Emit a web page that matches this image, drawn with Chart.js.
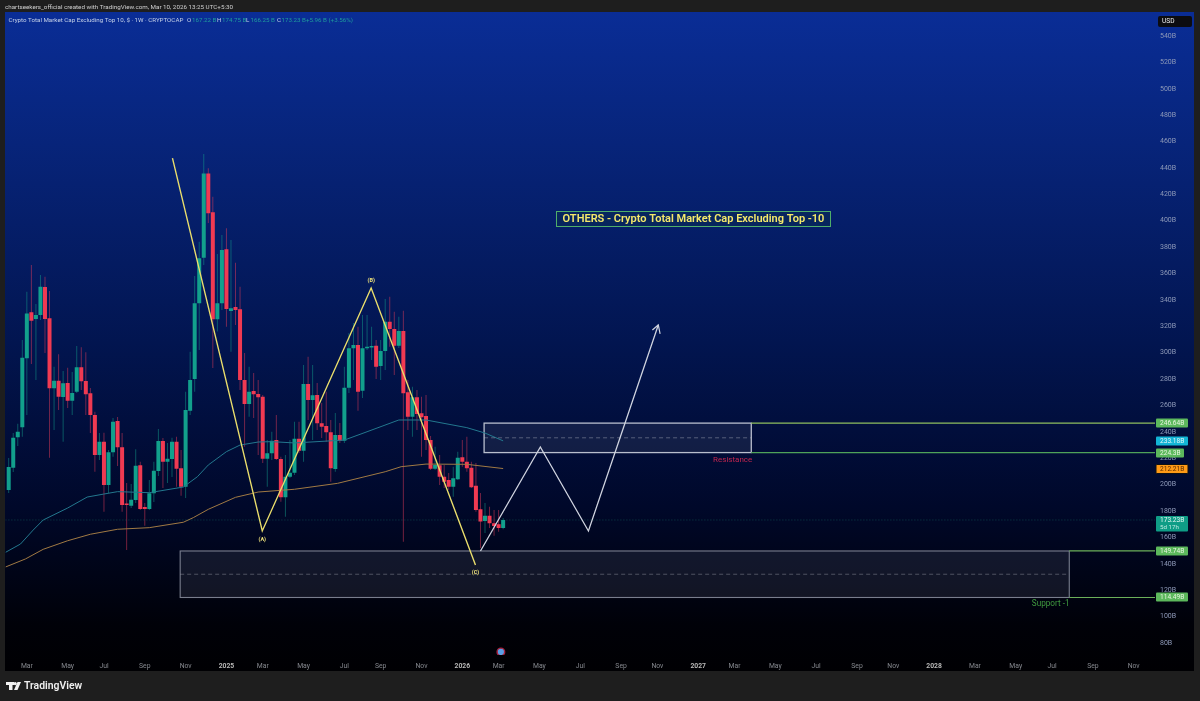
<!DOCTYPE html>
<html><head><meta charset="utf-8">
<style>html,body{margin:0;padding:0;background:#1e1e1e;overflow:hidden}canvas{display:block;filter:blur(.35px)}</style>
<script src="https://cdn.jsdelivr.net/npm/chart.js@4/dist/chart.umd.js"></script>
</head><body><canvas id="c" width="1200" height="701"></canvas>
<script>
// weekly candles: index 0 = first visible week, index 109 = week of 9 Mar 2026 (values in billions)
const opens=[196.0,212.9,235.9,243.5,295.8,330.6,325.5,328.6,349.8,326.1,
273.0,278.8,266.4,277.0,263.6,270.4,288.9,278.5,269.2,252.8,
222.5,232.6,199.7,224.5,248.2,228.3,185.7,184.0,188.4,214.7,
183.1,181.6,193.5,210.3,233.1,217.4,219.4,232.6,212.4,198.5,
256.0,280.1,337.4,372.0,435.9,406.4,325.3,337.4,378.4,331.6,
334.6,332.9,279.3,261.1,271.0,268.7,266.6,219.7,223.8,233.8,
219.4,190.4,206.0,209.0,234.8,225.7,276.3,264.1,267.9,246.5,
244.4,239.7,211.9,237.6,233.3,273.5,303.3,305.8,271.2,303.3,
303.9,305.3,289.9,301.3,323.5,318.0,305.3,316.4,270.0,251.5,
266.2,254.1,252.0,233.8,212.1,214.7,206.0,203.5,198.5,204.0,
220.7,217.4,212.9,199.2,181.3,172.4,176.5,170.7,170.0,167.22];
const closes=[213.4,235.6,240.1,296.2,329.8,324.2,328.6,350.0,325.5,273.0,
278.8,266.6,276.8,263.6,269.5,288.9,278.3,268.5,252.8,222.5,
232.6,199.7,224.5,247.7,228.3,184.6,184.6,188.6,214.4,181.6,
181.6,193.5,210.6,233.1,217.4,219.7,232.6,212.1,198.5,256.6,
279.3,337.4,371.5,435.9,405.6,325.3,337.4,377.8,333.1,333.6,
332.3,279.3,261.1,270.4,268.5,266.2,219.7,223.8,233.3,219.4,
190.4,206.0,209.0,234.8,225.7,276.3,264.1,267.7,246.5,243.9,
239.7,212.4,237.6,233.3,273.5,303.3,305.8,270.4,303.3,304.5,
305.1,289.4,301.3,323.5,318.0,305.3,316.4,269.2,251.5,266.2,
253.5,251.0,233.8,212.1,214.9,206.0,202.2,198.5,204.8,220.4,
217.4,212.4,198.0,180.8,172.0,176.5,170.7,168.7,167.2,173.23];
const highs=[220.2,239.1,246.2,309.6,346.2,366.5,336.9,358.9,357.6,346.7,
289.4,298.8,286.1,288.6,285.4,305.1,304.1,300.3,273.2,255.3,
239.1,239.4,226.3,250.5,251.3,239.1,201.2,200.5,226.8,217.4,
186.1,203.5,217.4,242.2,235.4,231.6,235.6,236.3,226.3,270.4,
300.8,358.1,384.1,450.6,439.7,418.2,374.8,389.2,394.3,385.4,
368.2,350.0,299.8,289.4,284.6,279.3,268.0,233.8,240.1,252.8,
221.2,222.5,233.8,247.7,247.7,290.7,297.0,290.7,277.0,261.9,
270.4,249.0,254.3,246.7,289.4,314.9,322.5,319.7,328.6,328.6,
319.7,309.6,309.6,340.7,342.4,331.1,327.3,331.8,279.3,274.2,
271.7,266.6,268.0,236.9,228.8,222.5,214.9,208.8,213.6,225.0,
233.8,236.3,217.4,216.4,193.7,186.1,183.3,180.8,180.8,174.75];
const lows=[193.7,209.6,229.3,236.3,252.8,291.4,279.3,324.8,299.8,220.4,
241.4,256.6,232.6,258.1,252.8,269.5,271.7,252.8,239.1,209.8,
218.7,179.5,193.7,221.2,214.1,179.5,150.5,182.3,186.1,180.8,
168.9,180.8,186.8,206.6,197.5,201.3,205.8,198.5,191.6,189.9,
252.8,270.4,302.0,366.5,398.3,288.4,316.0,332.4,319.7,300.7,
321.0,271.7,228.8,251.5,250.5,222.5,216.4,198.5,218.7,218.7,
187.1,175.7,205.0,207.3,224.0,217.4,249.0,233.8,241.4,235.4,
232.6,202.2,209.8,231.6,231.6,269.5,279.3,256.0,265.7,302.0,
294.5,280.1,279.3,286.9,304.5,283.1,303.6,156.8,241.4,236.3,
241.4,221.2,226.3,211.1,211.1,199.7,197.5,196.0,190.9,203.5,
213.6,209.8,197.5,179.5,152.0,163.4,167.2,161.3,164.3,166.25];
const tealWeeks=[-0.7,2.6,5.4,7.6,13,17.3,21,24,31,38.5,41.6,44,48,51,55,58,63,74,79,86,92,101,105,109];
const tealValues=[148.7,155,165.6,173.2,182.3,190.6,192.9,194.7,193.9,198.2,206,214.9,225,230,232.3,232.6,231.6,233.8,240.1,249,249,243.2,239.1,233.18];
const orangeWeeks=[-0.7,3.7,7.6,13,18,24,31,38.5,40.7,44,50,55,63,72.5,83,86.5,92,101,109];
const orangeValues=[137.6,143.7,151,157.5,162.4,166.2,167.4,171.5,175,181.3,190.4,194.4,196.5,201,209.8,213.6,215.6,215.4,212.21];
const abcWeeks=[36.1,55.9,79.9,102.9];
const abcValues=[447.5,164.9,349,139.1];
const pathWeeks=[104,117.2,127.8,143.2];
const pathValues=[149.7,228.5,164.9,321];
const arrowWeeks=[141.9,143.2,143.6];
const arrowValues=[317.2,321,314.2];
const xTickWeeks=[4,13,21,30,39,48,56,65,74,82,91,100,108,117,126,135,143,152,160,169,178,187,195,204,213,222,230,239,248];
const xTickLabels=['Mar','May','Jul','Sep','Nov','2025','Mar','May','Jul','Sep','Nov','2026','Mar','May','Jul','Sep','Nov','2027','Mar','May','Jul','Sep','Nov','2028','Mar','May','Jul','Sep','Nov'];
const yTickValues=[80,100,120,140,160,180,200,220,240,260,280,300,320,340,360,380,400,420,440,460,480,500,520,540];
const resistanceWeeks=[104.8,163.7], resistanceValues=[246.64,224.3], resistanceMid=235.5;
const supportWeeks=[37.8,233.8], supportValues=[149.74,114.49], supportMid=132.1;
const lastPrice=173.23;
const XMIN=-0.727, XMAX=252.7, YMIN=70.9, YMAX=558.2;
const FONT='Roboto, "Liberation Sans", sans-serif';
const UP='#12a08c', DOWN='#f03a52', UPW='rgba(20,160,140,.5)', DOWNW='rgba(230,60,90,.5)';
const idx=opens.map((_,i)=>i);
const isUp=i=>closes[i]>=opens[i];
const line=(wk,val,color,width,dash,extra)=>Object.assign({type:'line',data:wk.map((x,i)=>({x,y:val[i]})),borderColor:color,borderWidth:width,borderDash:dash||[],pointRadius:0,tension:0,fill:false,order:1},extra||{});
const horiz=(x0,x1,v,color,width,dash)=>line([x0,x1],[v,v],color,width,dash);

const chrome={id:'chrome',
 beforeDraw(ch){const c=ch.ctx;c.save();c.fillStyle='#1e1e1e';c.fillRect(0,0,1200,701);
  const g=c.createLinearGradient(0,12,0,671);
  g.addColorStop(0,'#0a2d96');g.addColorStop(.2,'#07247a');g.addColorStop(.5,'#021550');g.addColorStop(.75,'#00082a');g.addColorStop(.93,'#000108');g.addColorStop(1,'#000003');
  c.fillStyle=g;c.fillRect(5,12,1189,659);c.restore();},
 beforeDatasetsDraw(ch){const c=ch.ctx,x=ch.scales.x,y=ch.scales.y;c.save();
  const box=(w,v,fill,stroke,lw)=>{const a=x.getPixelForValue(w[0]),b=x.getPixelForValue(w[1]),t=y.getPixelForValue(v[0]),u=y.getPixelForValue(v[1]);c.fillStyle=fill;c.fillRect(a,t,b-a,u-t);c.strokeStyle=stroke;c.lineWidth=lw;c.strokeRect(a,t,b-a,u-t);};
  box(resistanceWeeks,resistanceValues,'rgba(120,128,150,.15)','rgba(215,220,230,.85)',1.3);
  box(supportWeeks,supportValues,'rgba(90,95,115,.2)','rgba(150,155,170,.8)',1.1);
  c.restore();},
 afterDraw(ch){const c=ch.ctx,x=ch.scales.x,y=ch.scales.y;c.save();c.textBaseline='middle';
  const T=(s,px,py,col,font,al)=>{c.fillStyle=col;c.font=font;c.textAlign=al||'left';c.fillText(s,px,py);};
  const f=(n,b)=>(b?'bold ':'')+n+'px '+FONT;
  T('chartseekers_official created with TradingView.com, Mar 10, 2026 13:25 UTC+5:30',5,7.5,'#cfcfcf',f(6.25));
  T('Crypto Total Market Cap Excluding Top 10, $ · 1W · CRYPTOCAP',8.5,20.5,'#c4d0e8',f(6.2));
  const TV='#1f9c9c';
  [['O',187,'167.22 B',192],['H',217,'174.75 B',222],['L',246,'166.25 B',250.5],['C',277,'173.23 B',281.5]].forEach(r=>{T(r[0],r[1],20.5,'#c4d0e8',f(6.2));T(r[2],r[3],20.5,TV,f(6.2));});
  T('+5.96 B (+3.56%)',306,20.5,TV,f(6.2));
  // USD
  c.fillStyle='#0c0c10';c.beginPath();c.roundRect(1158,16,34,11,2);c.fill();
  T('USD',1162,21.5,'#eee',f(6.6));
  // data-anchored labels
  T('(A)',x.getPixelForValue(55.9),y.getPixelForValue(158.4),'#efe27a',f(5.5,1),'center');
  T('(B)',x.getPixelForValue(79.9),y.getPixelForValue(354.3),'#efe27a',f(5.5,1),'center');
  T('(C)',x.getPixelForValue(102.9),y.getPixelForValue(133),'#efe27a',f(5.5,1),'center');
  T('Resistance',x.getPixelForValue(159.6),y.getPixelForValue(218.8),'#c2264f',f(8),'center');
  T('Support -1',x.getPixelForValue(229.7),y.getPixelForValue(109.6),'#3f9a3f',f(8.2),'center');
  // headline box
  c.fillStyle='rgba(8,40,90,.75)';c.fillRect(556.5,211.5,274,15);c.strokeStyle='#4fae6a';c.lineWidth=1;c.strokeRect(556.5,211.5,274,15);
  T('OTHERS - Crypto Total Market Cap Excluding Top -10',693.5,219.3,'#f6e96a','600 11px '+FONT,'center');
  // price tags
  const tag=(v,s,col,tc,w,border)=>{const py=Math.round(y.getPixelForValue(v));c.fillStyle=col;c.beginPath();c.roundRect(1156,py-4.5,w,9,1);c.fill();if(border){c.strokeStyle=border;c.lineWidth=1;c.stroke();}T(s,1160,py+.3,tc,f(6.6));};
  tag(246.64,'246.64B','#5cb85c','#e8f5e0',32);
  tag(233.18,'233.18B','#12b5d6','#e4f6fa',32);
  tag(224.3,'224.3B','#5cb85c','#e8f5e0',28);
  tag(212.21,'212.21B','#ff9a16','#5a2a00',32,'#111');
  tag(149.74,'149.74B','#5cb85c','#e8f5e0',32);
  tag(114.49,'114.49B','#5cb85c','#e8f5e0',32);
  c.fillStyle='#0f9d86';c.beginPath();c.roundRect(1156,516,32,15.5,1);c.fill();
  T('173.23B',1160,520.5,'#e4f7f2',f(6.6));T('5d 17h',1160,527.5,'#bfeae0',f(6.2));
  // footer logo
  c.fillStyle='#f2f2f2';c.fillRect(6,682,8,3);c.fillRect(9,682,3.5,8);
  c.beginPath();c.arc(15.2,683.6,1.6,0,7);c.fill();
  c.beginPath();c.moveTo(14,690);c.lineTo(17.5,682);c.lineTo(21,682);c.lineTo(17.5,690);c.closePath();c.fill();
  T('TradingView',24,686.5,'#efefef','600 10.4px '+FONT);
  c.restore();}
};

new Chart(document.getElementById('c'),{type:'bar',plugins:[chrome],
 data:{datasets:[
  {label:'wick',data:idx.map(i=>({x:i,y:[lows[i],highs[i]]})),backgroundColor:idx.map(i=>isUp(i)?UPW:DOWNW),barThickness:1,grouped:false,order:4,inflateAmount:0},
  {label:'body',data:idx.map(i=>({x:i,y:[Math.min(opens[i],closes[i]),Math.max(opens[i],closes[i])]})),backgroundColor:idx.map(i=>isUp(i)?UP:DOWN),barThickness:4,grouped:false,order:3,inflateAmount:0},
  line(tealWeeks,tealValues,'#23788e',1,null,{order:2}),
  line(orangeWeeks,orangeValues,'#a07a44',1,null,{order:2}),
  line(abcWeeks,abcValues,'#e9dd6c',1.4),
  line(pathWeeks,pathValues,'#cfd3df',1.3),
  line(arrowWeeks,arrowValues,'#cfd3df',1.2),
  horiz(XMIN,XMAX,lastPrice,'rgba(30,150,130,.4)',1,[1,2]),
  horiz(resistanceWeeks[0],resistanceWeeks[1],resistanceMid,'rgba(190,195,205,.4)',1,[4,3]),
  horiz(supportWeeks[0],supportWeeks[1],supportMid,'rgba(170,175,185,.4)',1,[4,3]),
  horiz(resistanceWeeks[1],XMAX,resistanceValues[0],'#8fbf5f',1.2),
  horiz(resistanceWeeks[1],XMAX,resistanceValues[1],'#4fa35a',1.2),
  horiz(supportWeeks[1],XMAX,supportValues[0],'#6bb05a',1.2),
  horiz(supportWeeks[1],XMAX,supportValues[1],'#6bb05a',1.2),
  {type:'line',data:[{x:108.5,y:73.2}],showLine:false,pointRadius:3.8,pointBackgroundColor:'#5a9fe6',pointBorderColor:'#a8203c',pointBorderWidth:1.4,order:0}
 ]},
 options:{responsive:false,animation:false,devicePixelRatio:1,
  layout:{padding:{left:5,top:12,right:0,bottom:0}},
  plugins:{legend:{display:false},tooltip:{enabled:false},title:{display:false}},
  scales:{
   x:{type:'linear',offset:false,min:XMIN,max:XMAX,grid:{display:false,drawTicks:false},border:{display:false},
      afterBuildTicks(s){s.ticks=xTickWeeks.map(v=>({value:v}));},
      afterFit(s){s.height=46;},
      ticks:{autoSkip:false,maxRotation:0,padding:7,
        callback(v){const k=xTickWeeks.indexOf(v);return k>=0?xTickLabels[k]:'';},
        font(ctx){const l=xTickLabels[ctx.index]||'';return {family:FONT,size:6.8,weight:/^\d/.test(l)?'bold':'normal'};},
        color(ctx){const l=xTickLabels[ctx.index]||'';return /^\d/.test(l)?'#b8b8b8':'#85888f';}}},
   y:{position:'right',min:YMIN,max:YMAX,grid:{display:false,drawTicks:false},border:{display:false},
      afterBuildTicks(s){s.ticks=yTickValues.map(v=>({value:v}));},
      afterFit(s){s.width=45;},
      ticks:{autoSkip:false,padding:5,font:{family:FONT,size:7},color:'#8d99b8',callback:v=>v+'B'}}
  }}
});
</script></body></html>
